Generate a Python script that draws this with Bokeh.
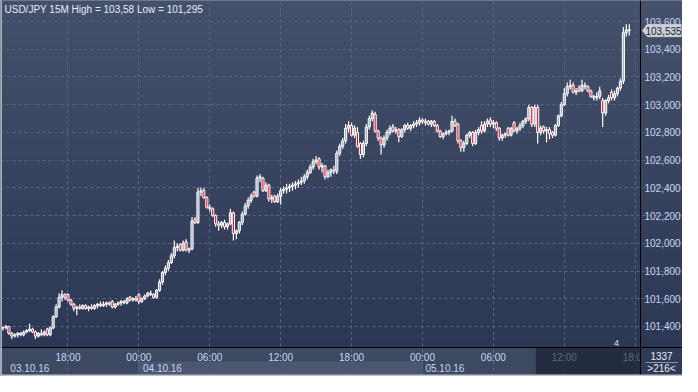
from bokeh.plotting import figure
from bokeh.models import (LinearAxis, FixedTicker, Grid, BoxAnnotation, Label,
                          PolyAnnotation, Range1d, ColumnDataSource)
from bokeh.embed import file_html
from bokeh.resources import INLINE

# ---------------- data (USD/JPY 15M candles, index = candle number from 03.10.16 12:30) -------------
opens = [
    101.39, 101.39, 101.40, 101.35, 101.33, 101.34, 101.35, 101.34, 101.36, 101.37,
    101.38, 101.36, 101.33, 101.35, 101.34, 101.38, 101.34, 101.39, 101.47, 101.54,
    101.61, 101.63, 101.63, 101.59, 101.56, 101.53, 101.54, 101.53, 101.55, 101.53,
    101.54, 101.53, 101.55, 101.56, 101.55, 101.56, 101.57, 101.58, 101.54, 101.56,
    101.57, 101.58, 101.57, 101.61, 101.59, 101.60, 101.63, 101.58, 101.60, 101.62,
    101.64, 101.63, 101.61, 101.66, 101.72, 101.79, 101.82, 101.86, 101.91, 101.97,
    101.99, 101.95, 102.01, 101.95, 101.96, 102.17, 102.15, 102.37, 102.38, 102.33,
    102.26, 102.25, 102.20, 102.14, 102.13, 102.15, 102.12, 102.14, 102.22, 102.07,
    102.09, 102.15, 102.21, 102.27, 102.31, 102.37, 102.34, 102.47, 102.47, 102.38,
    102.42, 102.32, 102.34, 102.30, 102.34, 102.38, 102.39, 102.40, 102.41, 102.42,
    102.43, 102.44, 102.45, 102.48, 102.51, 102.55, 102.59, 102.61, 102.55, 102.56,
    102.48, 102.51, 102.53, 102.52, 102.65, 102.70, 102.74, 102.83, 102.85, 102.78,
    102.80, 102.72, 102.64, 102.72, 102.84, 102.90, 102.93, 102.81, 102.76, 102.71,
    102.76, 102.80, 102.84, 102.81, 102.82, 102.77, 102.82, 102.85, 102.83, 102.85,
    102.86, 102.87, 102.89, 102.88, 102.88, 102.86, 102.88, 102.85, 102.81, 102.77,
    102.79, 102.80, 102.81, 102.88, 102.86, 102.74, 102.69, 102.72, 102.78, 102.80,
    102.72, 102.80, 102.85, 102.81, 102.86, 102.89, 102.86, 102.87, 102.83, 102.76,
    102.78, 102.83, 102.78, 102.87, 102.81, 102.83, 102.85, 102.88, 102.90, 102.98,
    102.86, 102.98, 102.80, 102.84, 102.81, 102.82, 102.80, 102.78, 102.85, 102.92,
    103.00, 103.08, 103.13, 103.14, 103.09, 103.12, 103.10, 103.14, 103.13, 103.10,
    103.06, 103.05, 103.06, 103.03, 102.94, 103.03, 103.09, 103.05, 103.08, 103.12,
    103.17, 103.52, 103.54,
]
highs = [
    101.40, 101.41, 101.40, 101.36, 101.35, 101.36, 101.36, 101.37, 101.38, 101.42,
    101.39, 101.37, 101.36, 101.38, 101.37, 101.39, 101.40, 101.48, 101.56, 101.64,
    101.66, 101.64, 101.64, 101.60, 101.57, 101.55, 101.56, 101.56, 101.56, 101.55,
    101.56, 101.56, 101.57, 101.58, 101.58, 101.58, 101.58, 101.59, 101.57, 101.58,
    101.59, 101.59, 101.61, 101.62, 101.61, 101.62, 101.64, 101.61, 101.63, 101.65,
    101.66, 101.64, 101.67, 101.74, 101.80, 101.84, 101.88, 101.93, 102.02, 102.00,
    102.00, 102.02, 102.03, 101.97, 102.19, 102.19, 102.40, 102.40, 102.40, 102.34,
    102.28, 102.26, 102.21, 102.16, 102.16, 102.17, 102.15, 102.25, 102.23, 102.10,
    102.16, 102.23, 102.29, 102.33, 102.36, 102.38, 102.49, 102.50, 102.48, 102.44,
    102.43, 102.35, 102.35, 102.36, 102.40, 102.41, 102.43, 102.43, 102.44, 102.45,
    102.46, 102.48, 102.50, 102.53, 102.57, 102.61, 102.63, 102.62, 102.58, 102.56,
    102.53, 102.54, 102.56, 102.67, 102.72, 102.76, 102.86, 102.88, 102.87, 102.85,
    102.84, 102.73, 102.74, 102.86, 102.92, 102.96, 102.95, 102.82, 102.77, 102.78,
    102.82, 102.85, 102.86, 102.84, 102.83, 102.83, 102.86, 102.87, 102.86, 102.88,
    102.89, 102.91, 102.90, 102.90, 102.89, 102.89, 102.89, 102.86, 102.82, 102.80,
    102.82, 102.82, 102.92, 102.90, 102.87, 102.75, 102.74, 102.79, 102.81, 102.81,
    102.82, 102.84, 102.88, 102.88, 102.90, 102.91, 102.89, 102.88, 102.84, 102.79,
    102.80, 102.84, 102.84, 102.88, 102.84, 102.87, 102.89, 102.91, 103.00, 102.99,
    103.00, 103.00, 102.85, 102.85, 102.84, 102.84, 102.81, 102.86, 102.93, 103.02,
    103.12, 103.16, 103.18, 103.16, 103.12, 103.14, 103.18, 103.16, 103.14, 103.11,
    103.07, 103.09, 103.13, 103.05, 103.04, 103.07, 103.11, 103.10, 103.13, 103.19,
    103.56, 103.58, 103.58,
]
lows = [
    101.37, 101.38, 101.34, 101.31, 101.32, 101.32, 101.33, 101.33, 101.35, 101.36,
    101.35, 101.31, 101.32, 101.33, 101.33, 101.33, 101.33, 101.38, 101.46, 101.53,
    101.58, 101.59, 101.58, 101.55, 101.51, 101.48, 101.52, 101.52, 101.52, 101.51,
    101.52, 101.52, 101.53, 101.54, 101.54, 101.54, 101.55, 101.53, 101.53, 101.55,
    101.55, 101.56, 101.56, 101.58, 101.58, 101.58, 101.56, 101.57, 101.59, 101.61,
    101.62, 101.60, 101.60, 101.65, 101.70, 101.77, 101.80, 101.85, 101.89, 101.94,
    101.94, 101.94, 101.94, 101.93, 101.95, 102.14, 102.14, 102.34, 102.32, 102.25,
    102.23, 102.19, 102.12, 102.09, 102.11, 102.10, 102.10, 102.13, 102.02, 102.03,
    102.07, 102.13, 102.20, 102.25, 102.29, 102.33, 102.33, 102.44, 102.37, 102.37,
    102.30, 102.29, 102.29, 102.29, 102.28, 102.36, 102.36, 102.37, 102.38, 102.39,
    102.40, 102.42, 102.43, 102.46, 102.50, 102.53, 102.57, 102.53, 102.51, 102.46,
    102.47, 102.48, 102.50, 102.50, 102.63, 102.68, 102.72, 102.80, 102.77, 102.76,
    102.69, 102.61, 102.62, 102.70, 102.82, 102.88, 102.80, 102.74, 102.64, 102.69,
    102.74, 102.78, 102.80, 102.79, 102.73, 102.76, 102.80, 102.82, 102.81, 102.83,
    102.84, 102.85, 102.86, 102.85, 102.85, 102.84, 102.84, 102.80, 102.76, 102.75,
    102.78, 102.78, 102.80, 102.84, 102.72, 102.66, 102.66, 102.71, 102.76, 102.70,
    102.71, 102.78, 102.79, 102.80, 102.84, 102.84, 102.83, 102.81, 102.74, 102.74,
    102.76, 102.77, 102.77, 102.80, 102.79, 102.81, 102.83, 102.86, 102.88, 102.84,
    102.84, 102.72, 102.78, 102.79, 102.73, 102.75, 102.76, 102.77, 102.84, 102.91,
    102.99, 103.06, 103.11, 103.08, 103.07, 103.09, 103.09, 103.11, 103.09, 103.05,
    103.03, 103.03, 103.04, 102.84, 102.92, 103.01, 103.03, 103.03, 103.06, 103.10,
    103.15, 103.49, 103.50,
]
closes = [
    101.39, 101.40, 101.35, 101.33, 101.34, 101.35, 101.34, 101.36, 101.37, 101.38,
    101.36, 101.33, 101.35, 101.34, 101.36, 101.34, 101.39, 101.47, 101.54, 101.61,
    101.63, 101.61, 101.59, 101.56, 101.53, 101.54, 101.53, 101.55, 101.53, 101.54,
    101.53, 101.55, 101.56, 101.55, 101.56, 101.57, 101.56, 101.54, 101.56, 101.57,
    101.58, 101.57, 101.60, 101.59, 101.60, 101.59, 101.58, 101.60, 101.62, 101.64,
    101.63, 101.61, 101.66, 101.72, 101.79, 101.82, 101.86, 101.91, 101.97, 101.98,
    101.95, 102.00, 101.95, 101.96, 102.16, 102.15, 102.37, 102.38, 102.33, 102.26,
    102.25, 102.20, 102.14, 102.13, 102.15, 102.12, 102.14, 102.22, 102.07, 102.09,
    102.15, 102.21, 102.27, 102.31, 102.34, 102.34, 102.47, 102.48, 102.38, 102.42,
    102.32, 102.33, 102.30, 102.34, 102.38, 102.39, 102.40, 102.41, 102.42, 102.43,
    102.44, 102.45, 102.48, 102.51, 102.55, 102.59, 102.60, 102.55, 102.56, 102.48,
    102.51, 102.53, 102.52, 102.65, 102.70, 102.74, 102.83, 102.85, 102.78, 102.83,
    102.70, 102.64, 102.72, 102.84, 102.90, 102.94, 102.81, 102.76, 102.71, 102.76,
    102.80, 102.83, 102.81, 102.82, 102.77, 102.82, 102.85, 102.83, 102.85, 102.86,
    102.87, 102.89, 102.88, 102.87, 102.86, 102.88, 102.85, 102.81, 102.77, 102.79,
    102.80, 102.81, 102.88, 102.85, 102.74, 102.69, 102.72, 102.78, 102.80, 102.72,
    102.80, 102.82, 102.81, 102.86, 102.88, 102.86, 102.87, 102.83, 102.76, 102.78,
    102.79, 102.78, 102.83, 102.81, 102.83, 102.85, 102.88, 102.90, 102.98, 102.86,
    102.98, 102.80, 102.83, 102.81, 102.82, 102.79, 102.78, 102.85, 102.92, 103.00,
    103.08, 103.13, 103.14, 103.09, 103.10, 103.10, 103.14, 103.13, 103.10, 103.06,
    103.05, 103.06, 103.10, 102.94, 103.03, 103.05, 103.05, 103.08, 103.12, 103.17,
    103.52, 103.54, 103.535,
]
assert len(opens) == len(highs) == len(lows) == len(closes)

x_tick_pos = [22, 46, 70, 94, 118, 142, 166, 190, 214]
x_tick_labels = ["18:00", "00:00", "06:00", "12:00", "18:00", "00:00", "06:00", "12:00", "18:00"]
y_tick_values = [101.4, 101.6, 101.8, 102.0, 102.2, 102.4, 102.6, 102.8, 103.0, 103.2, 103.4, 103.6]
y_tick_labels = ["101,400", "101,600", "101,800", "102,000", "102,200", "102,400",
                 "102,600", "102,800", "103,000", "103,200", "103,400", "103,600"]
date_labels = ["03.10.16", "04.10.16", "05.10.16"]
date_label_x = [2.5, 47.4, 143.0]
title_text = "USD/JPY 15M High = 103,58 Low = 101,295"
last_price_text = "103,535"
counter_top, counter_bottom = "1337", ">216<"

# ---------------- layout / style ----------------
W, H = 682, 376          # whole canvas (the frame covers all of it)
RB, BB = 42, 29          # price-scale strip on the right, time-scale strip at the bottom
FW, FH = W - RB, H - BB  # candle area
X0, XE = -0.83, 215.8    # candle index at left / right edge of the candle area
Y0, Y1 = 101.248, 103.752
dx = (XE - X0) / FW
dy = (Y1 - Y0) / FH
FONT = "Liberation Sans"
LBL = "#c6d8f2"
S = dict(left_units="screen", right_units="screen", top_units="screen", bottom_units="screen")

p = figure(width=W, height=H,
           x_range=Range1d(X0, X0 + W * dx), y_range=Range1d(Y0 - BB * dy, Y1),
           x_axis_type=None, y_axis_type=None, output_backend="svg", toolbar_location=None,
           min_border=0, min_border_left=0, min_border_right=0, min_border_top=0,
           min_border_bottom=0, background_fill_color="#3d4861", border_fill_color="#3d4861",
           outline_line_color=None)


def mix(c1, c2, t):
    a = [int(c1[i:i + 2], 16) for i in (1, 3, 5)]
    b = [int(c2[i:i + 2], 16) for i in (1, 3, 5)]
    return "#%02x%02x%02x" % tuple(round(a[k] + (b[k] - a[k]) * t) for k in range(3))


# vertical gradient behind candles and price scale
N = 40
for k in range(N):
    col = mix("#2b3753", "#45516b", (k + 0.5) / N)
    p.add_layout(BoxAnnotation(left=0, right=W, bottom=BB + FH * k / N,
                               top=BB + FH * (k + 1) / N + 0.6, **S,
                               fill_color=col, fill_alpha=1, line_color=None, level="image"))

# grids (limited to the candle area)
p.add_layout(Grid(dimension=0, ticker=FixedTicker(ticks=x_tick_pos), bounds=(Y0, Y1),
                  grid_line_color="#5a6781", grid_line_dash="3 3", grid_line_width=1))
p.add_layout(Grid(dimension=1, ticker=FixedTicker(ticks=y_tick_values), bounds=(X0, XE),
                  grid_line_color="#5a6781", grid_line_dash="3 3", grid_line_width=1))

# candles
idx = list(range(len(closes)))
btop = [max(o, c) for o, c in zip(opens, closes)]
bbot = [min(o, c) for o, c in zip(opens, closes)]
src = ColumnDataSource(dict(x=idx, hi=highs, lo=lows, top=btop, bot=bbot))
p.segment(x0="x", y0="top", x1="x", y1="hi", source=src, line_color="white", line_width=1.2)
p.segment(x0="x", y0="bot", x1="x", y1="lo", source=src, line_color="white", line_width=1.2)

up = [i for i in idx if closes[i] >= opens[i]]
dn = [i for i in idx if closes[i] < opens[i]]
src_up = ColumnDataSource(dict(x=up, top=[btop[i] for i in up], bot=[bbot[i] for i in up]))
src_dn = ColumnDataSource(dict(x=dn, top=[btop[i] for i in dn], bot=[bbot[i] for i in dn]))
p.vbar(x="x", top="top", bottom="bot", width=0.72, source=src_up,
       fill_color="white", fill_alpha=0.55, line_color="white", line_width=1)
p.vbar(x="x", top="top", bottom="bot", width=0.72, source=src_dn,
       fill_color="#e8102a", line_color="white", line_width=1)

# axes, drawn at fixed positions inside the canvas
yax = LinearAxis(ticker=FixedTicker(ticks=y_tick_values), fixed_location=XE,
                 major_label_overrides={v: s for v, s in zip(y_tick_values, y_tick_labels)},
                 axis_line_color="black", major_tick_line_color=None, minor_tick_line_color=None,
                 major_tick_out=0, major_tick_in=0, major_label_standoff=4,
                 major_label_text_color=LBL, major_label_text_font=FONT,
                 major_label_text_font_size="10px")
p.add_layout(yax, "right")
xax = LinearAxis(ticker=FixedTicker(ticks=x_tick_pos), fixed_location=Y0,
                 major_label_overrides={v: s for v, s in zip(x_tick_pos, x_tick_labels)},
                 axis_line_color="black", major_tick_line_color=None, minor_tick_line_color=None,
                 major_tick_out=0, major_tick_in=0, major_label_standoff=4,
                 major_label_text_color=LBL, major_label_text_font=FONT,
                 major_label_text_font_size="10px")
p.add_layout(xax, "below")

# date strip
p.add_layout(BoxAnnotation(left=46, right=142, left_units="data", right_units="data",
                           top=BB - 14.5, bottom=BB - 26.5, top_units="screen",
                           bottom_units="screen", fill_color="#4b5770", fill_alpha=1,
                           line_color="#5e6a84", line_width=1, level="underlay"))
for xd, txt in zip(date_label_x, date_labels):
    p.add_layout(Label(x=xd, y=BB - 20.5, x_units="data", y_units="screen", text=txt,
                       text_align="left", text_baseline="middle", text_color=LBL,
                       text_font=FONT, text_font_size="10px"))

# dimmed region of the time scale
p.add_layout(BoxAnnotation(left=180.4, right=XE, left_units="data", right_units="data",
                           top=BB - 0.5, bottom=2, top_units="screen", bottom_units="screen",
                           fill_color="#121a2c", fill_alpha=0.6, line_color=None, level="overlay"))

# bottom-right corner box with counters
p.add_layout(BoxAnnotation(left=FW, right=W, top=BB, bottom=0, **S,
                           fill_color="#2f3a54", fill_alpha=1, line_color=None, level="overlay"))
p.add_layout(BoxAnnotation(left=FW - 0.5, right=FW + 0.5, top=BB, bottom=0, **S,
                           fill_color="black", fill_alpha=1, line_color=None, level="overlay"))
p.add_layout(BoxAnnotation(left=FW, right=W, top=BB + 0.5, bottom=BB - 0.5, **S,
                           fill_color="black", fill_alpha=1, line_color=None, level="overlay"))
p.add_layout(BoxAnnotation(left=FW + 5, right=W - 5, top=BB - 14.5, bottom=BB - 15.5, **S,
                           fill_color="#8a96aa", fill_alpha=1, line_color=None, level="overlay"))
p.add_layout(Label(x=FW + 21, y=BB - 8.5, x_units="screen", y_units="screen", text=counter_top,
                   text_align="center", text_baseline="middle", text_color="#e6eef8",
                   text_font=FONT, text_font_size="10px", level="overlay"))
p.add_layout(Label(x=FW + 21, y=BB - 21, x_units="screen", y_units="screen", text=counter_bottom,
                   text_align="center", text_baseline="middle", text_color="#e6eef8",
                   text_font=FONT, text_font_size="10px", level="overlay"))

# window border (left and bottom)
p.add_layout(BoxAnnotation(left=0, right=1.5, top=H, bottom=0, **S,
                           fill_color="#aab0b9", fill_alpha=1, line_color=None, level="overlay"))
p.add_layout(BoxAnnotation(left=0, right=W, top=2, bottom=0, **S,
                           fill_color="#c0c4ca", fill_alpha=1, line_color=None, level="overlay"))

# last price tag on the price scale
yc = BB + (closes[-1] - Y0) / dy
p.add_layout(PolyAnnotation(xs=[FW + 1.5, FW + 7, W - 1, W - 1, FW + 7],
                            ys=[yc, yc + 6.5, yc + 6.5, yc - 6.5, yc - 6.5],
                            xs_units="screen", ys_units="screen",
                            fill_color="#cdd1d6", fill_alpha=1, line_color="#9ca3ad",
                            line_width=1, level="overlay"))
p.add_layout(Label(x=FW + 23, y=closes[-1], x_units="screen", y_units="data",
                   text=last_price_text, text_align="center", text_baseline="middle",
                   text_color="#1b2333", text_font=FONT, text_font_size="10px", level="overlay"))

# title and small marker text
p.add_layout(Label(x=4, y=H - 8.5, x_units="screen", y_units="screen", text=title_text,
                   text_align="left", text_baseline="middle", text_color="#e6eef8",
                   text_font=FONT, text_font_size="10px"))
p.add_layout(Label(x=616, y=BB + 4.5, x_units="screen", y_units="screen", text="4",
                   text_align="center", text_baseline="middle", text_color="#d6e2f4",
                   text_font=FONT, text_font_size="9px"))

open("out.html", "w").write(file_html(p, INLINE))
